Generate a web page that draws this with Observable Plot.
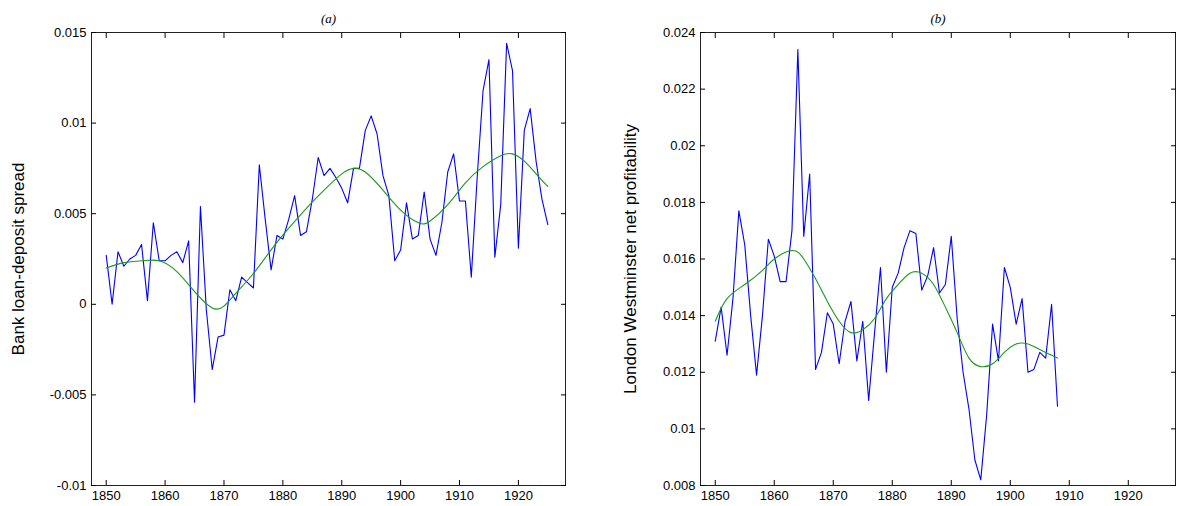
<!DOCTYPE html>
<html><head><meta charset="utf-8">
<script src="https://cdn.jsdelivr.net/npm/d3@7"></script>
<script src="https://cdn.jsdelivr.net/npm/@observablehq/plot@0.6"></script>
<style>
body{margin:0;background:#fff;font-family:"Liberation Sans",Arial,sans-serif}
#wrap{display:flex}
</style></head><body><div id="wrap"></div>
<script>
// panel (a): bank loan-deposit spread
const yearsA = d3.range(1850, 1926)
const spreadA = [0.0027,0.0,0.0029,0.0021,0.0025,0.0027,0.0033,0.0002,0.0045,0.0024,
  0.0024,0.0027,0.0029,0.0023,0.0035,-0.0054,0.0054,-0.0003,-0.0036,-0.0018,
  -0.0017,0.0008,0.0002,0.0015,0.0012,0.0009,0.0077,0.0047,0.0019,0.0038,
  0.0036,0.0047,0.006,0.0038,0.004,0.0058,0.0081,0.0071,0.0075,0.007,
  0.0064,0.0056,0.0075,0.0075,0.0096,0.0104,0.0094,0.0071,0.006,0.0024,
  0.003,0.0056,0.0036,0.0038,0.0062,0.0036,0.0027,0.0045,0.0073,0.0083,
  0.0057,0.0057,0.0015,0.007,0.0118,0.0135,0.0026,0.0055,0.0144,0.0129,
  0.0031,0.0096,0.0108,0.0079,0.0058,0.0044]
const trendYearsA = [1850,1853,1856,1859,1862,1865,1868,1870,1872,1875,1878,1881,1884,1887,1890,1892,1894,1897,1900,1903,1905,1908,1911,1914,1917,1919,1921,1923,1925]
const trendA = [0.002,0.0023,0.0024,0.0024,0.0018,0.0007,-0.0002,-0.0001,0.0006,0.0017,0.003,0.0042,0.0053,0.0063,0.0072,0.0075,0.0073,0.0063,0.0052,0.0045,0.0046,0.0055,0.0067,0.0076,0.0082,0.0083,0.0079,0.0072,0.0065]

// panel (b): London Westminster net profitability
const yearsB = d3.range(1850, 1909)
const profitB = [0.0131,0.0143,0.0126,0.0146,0.0177,0.0165,0.014,0.0119,0.014,0.0167,
  0.0161,0.0152,0.0152,0.017,0.0234,0.0168,0.019,0.0121,0.0127,0.0141,
  0.0137,0.0123,0.0138,0.0145,0.0124,0.0138,0.011,0.0134,0.0157,0.012,
  0.015,0.0155,0.0164,0.017,0.0169,0.0149,0.0154,0.0164,0.0148,0.0151,
  0.0168,0.0139,0.012,0.0107,0.0089,0.0082,0.0105,0.0137,0.0124,0.0157,
  0.015,0.0137,0.0146,0.012,0.0121,0.0127,0.0125,0.0144,0.0108]
const trendYearsB = [1850,1852,1855,1858,1860,1863,1865,1867,1869,1871,1873,1875,1877,1879,1881,1883,1885,1887,1889,1891,1893,1895,1897,1899,1901,1903,1905,1908]
const trendB = [0.0138,0.0146,0.0151,0.0156,0.016,0.0163,0.016,0.0153,0.0145,0.0138,0.0134,0.0135,0.0139,0.0146,0.0151,0.0155,0.0155,0.0151,0.0143,0.0134,0.0125,0.0122,0.0123,0.0127,0.013,0.013,0.0128,0.0125]

const xTicks = d3.range(1850, 1921, 10)
const fmt = d => String(+d.toFixed(3))

function panel(title, ylabel, years, vals, tYears, tVals, yDomain, yTicks, ml, mr, lOff) {
  const raw = years.map((x, i) => ({x, y: vals[i]}))
  const tr = tYears.map((x, i) => ({x, y: tVals[i]}))
  return Plot.plot({
    width: 590, height: 506,
    marginTop: 32, marginBottom: 21, marginLeft: ml, marginRight: mr,
    style: {fontFamily: "Liberation Sans, Arial, sans-serif", fontSize: "13px", color: "#000"},
    x: {domain: [1847.5, 1928], ticks: xTicks},
    y: {domain: yDomain, ticks: yTicks},
    marks: [
      Plot.frame({stroke: "#222"}),
      Plot.axisX({ticks: xTicks, tickSize: -5, tickFormat: d => String(d), label: null, tickPadding: 10}),
      Plot.axisX({anchor: "top", ticks: xTicks, tickSize: -5, tickFormat: () => "", label: null}),
      Plot.axisY({ticks: yTicks, tickSize: -5, tickFormat: fmt, tickPadding: 10, label: ylabel, labelAnchor: "center", labelArrow: "none", labelOffset: lOff, fontSize: 13}),
      Plot.axisY({anchor: "right", ticks: yTicks, tickSize: -5, tickFormat: () => "", label: null}),
      Plot.line(raw, {x: "x", y: "y", stroke: "#0000ff", strokeWidth: 1.1}),
      Plot.line(tr, {x: "x", y: "y", stroke: "#1a9a1a", strokeWidth: 1.1, curve: "natural"}),
      Plot.text([title], {frameAnchor: "top", dy: -19, fontStyle: "italic", fontSize: 13, fontFamily: "Liberation Serif, serif"})
    ]
  })
}

const a = panel("(a)", "Bank loan-deposit spread", yearsA, spreadA, trendYearsA, trendA,
  [-0.01, 0.015], d3.range(-0.01, 0.0151, 0.005), 91, 25, 80)
const b = panel("(b)", "London Westminster net profitability", yearsB, profitB, trendYearsB, trendB,
  [0.008, 0.024], d3.range(0.008, 0.02401, 0.002), 110, 5, 77)
for (const c of [a, b]) {
  d3.select(c).selectAll("[aria-label='y-axis label'] text").style("font-size", "17px")
  document.getElementById("wrap").append(c)
}
</script></body></html>
